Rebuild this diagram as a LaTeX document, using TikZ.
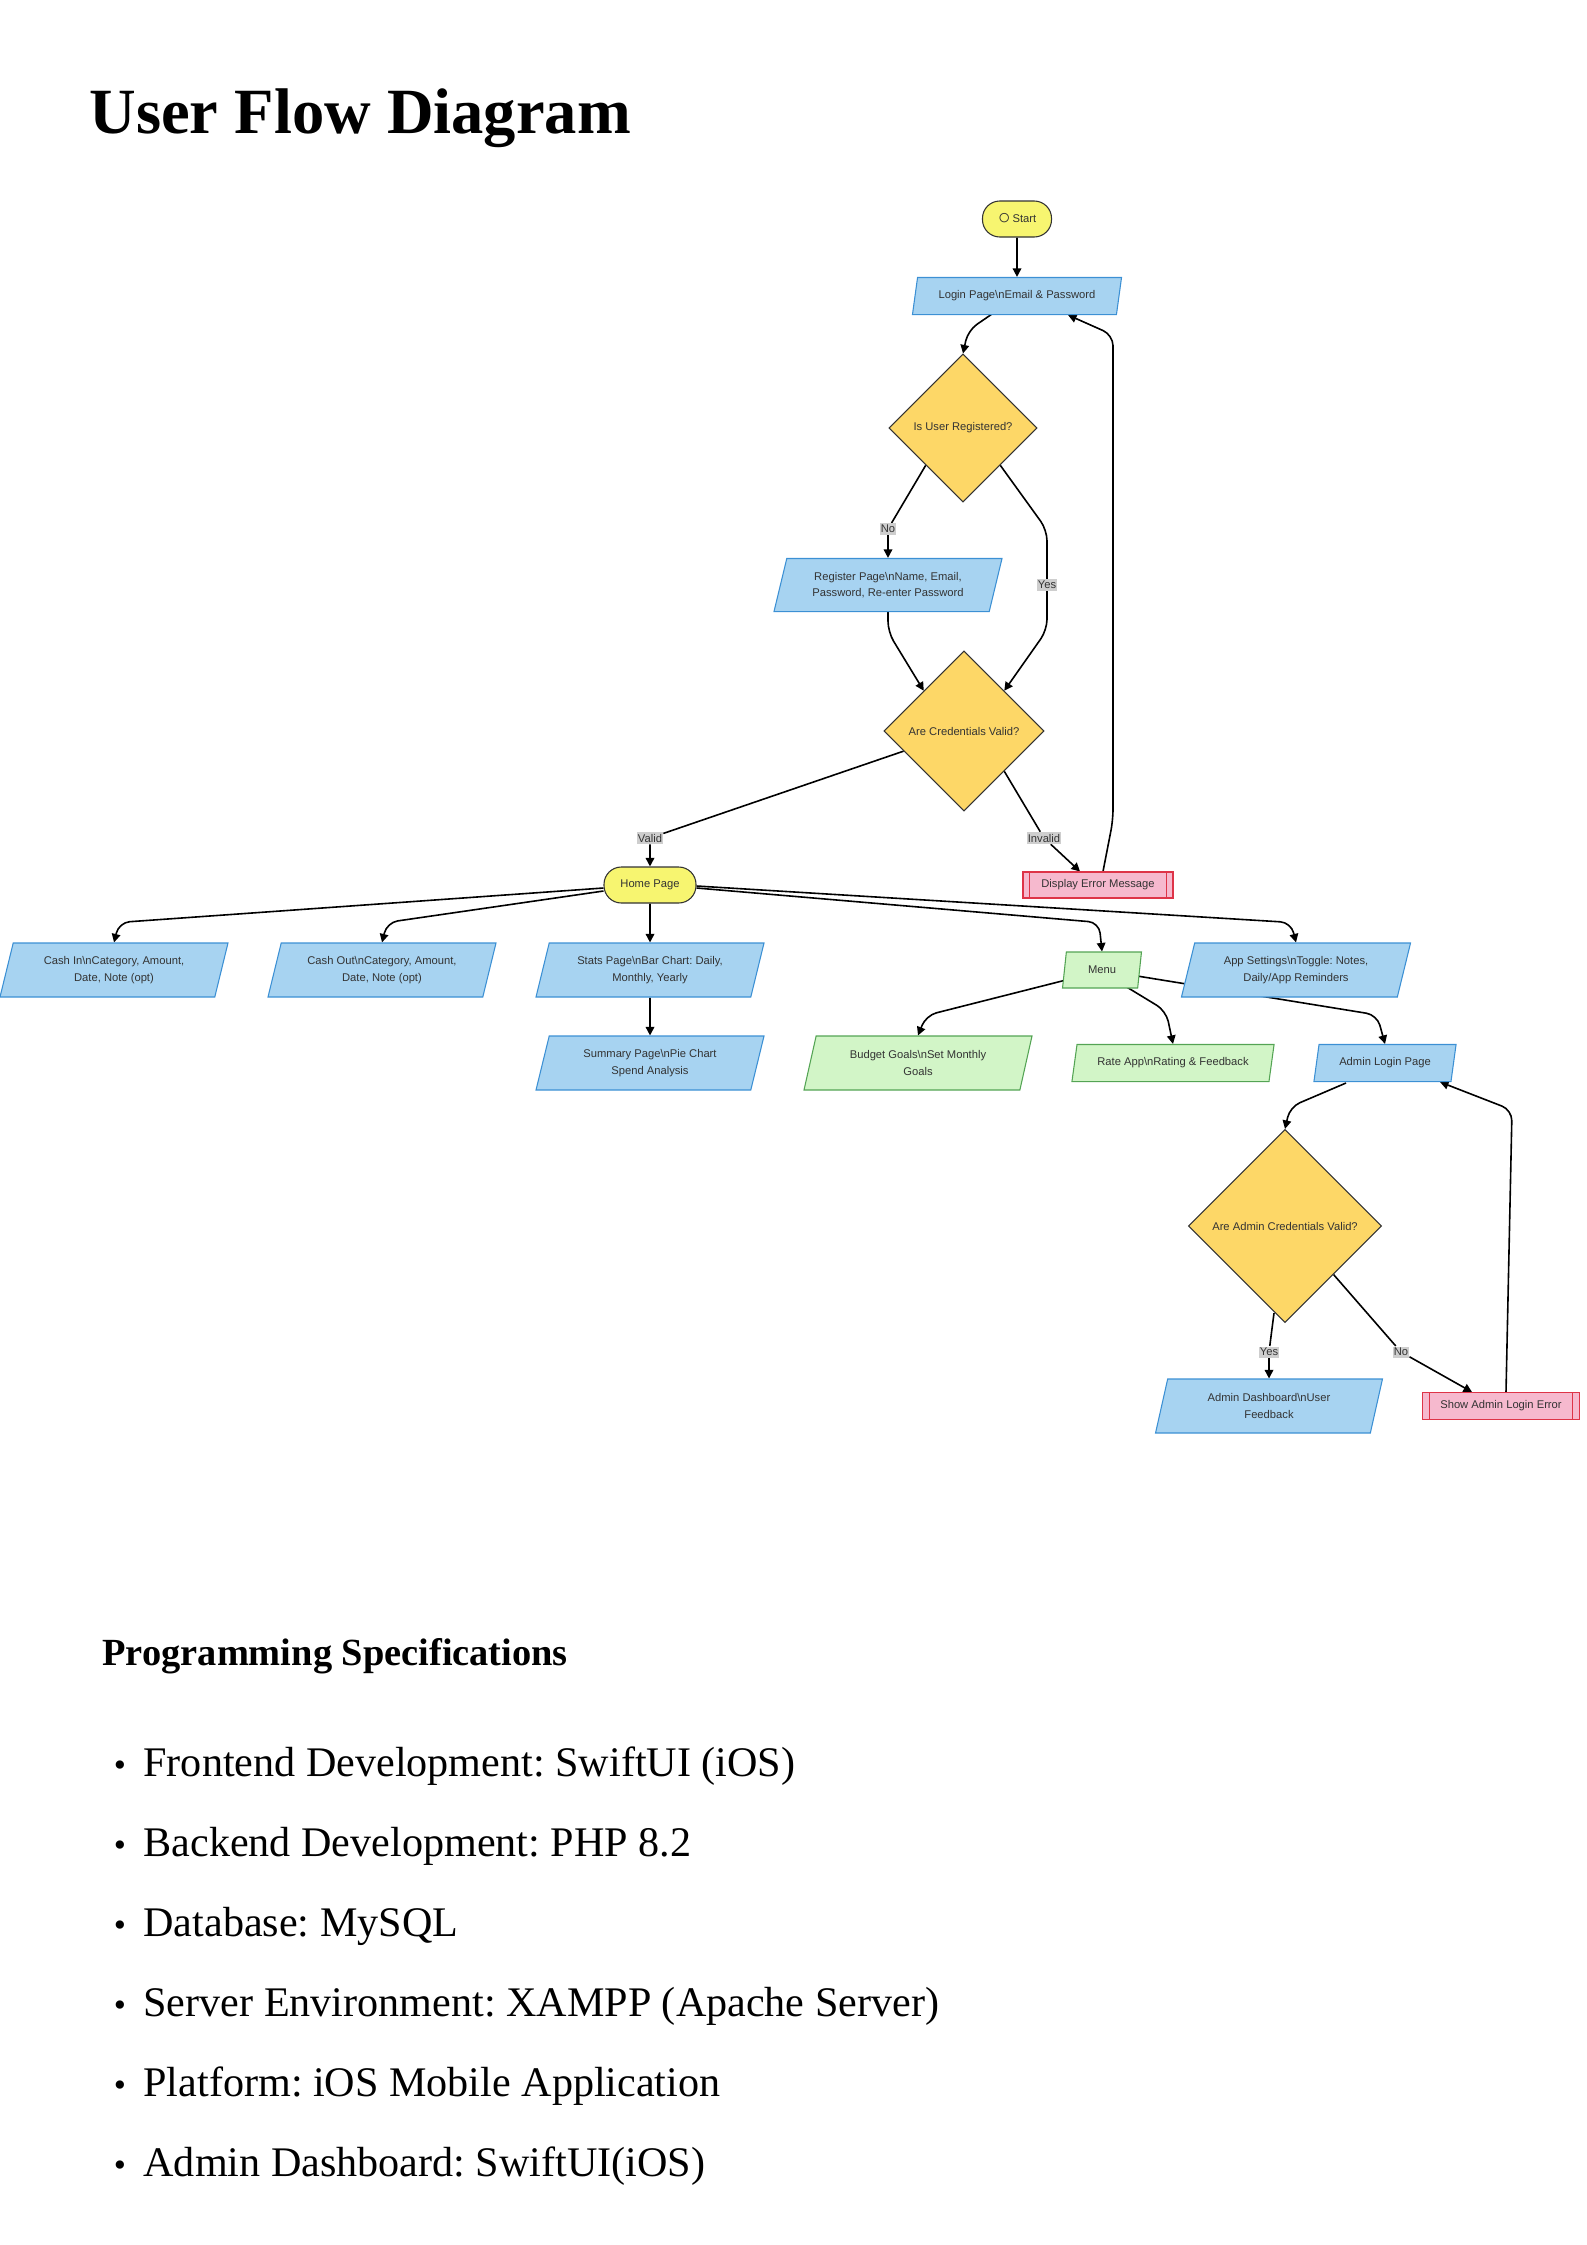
\documentclass[tikz,border=0pt]{standalone}
\usepackage{fontspec}
\setmainfont{Liberation Serif}
\newfontfamily\flowfont{Liberation Sans}
\usetikzlibrary{calc,positioning,shapes.geometric,arrows.meta}
\frenchspacing

\definecolor{pillfill}{RGB}{247,245,112}
\definecolor{decfill}{RGB}{253,215,103}
\definecolor{iofill}{RGB}{167,211,241}
\definecolor{ioline}{RGB}{60,144,212}
\definecolor{menufill}{RGB}{210,245,199}
\definecolor{menuline}{RGB}{84,164,84}
\definecolor{errfill}{RGB}{246,185,206}
\definecolor{errline}{RGB}{222,52,72}
\definecolor{lblfill}{RGB}{206,206,206}
\definecolor{txt}{RGB}{51,51,51}

\newcommand\bs{\textbackslash}

\pgfdeclarelayer{edges}
\pgfsetlayers{edges,main}

\tikzset{
  box/.style={font=\flowfont\fontsize{4.2}{6.25}\selectfont,text=txt,align=center,inner sep=0pt,line width=0.4pt},
  pill/.style={box,rectangle,rounded corners=6.5pt,fill=pillfill,draw=txt,minimum height=13.5pt},
  decision/.style={box,diamond,aspect=1,fill=decfill,draw=txt},
  page/.style={box,trapezium,trapezium left angle=64,trapezium right angle=116,trapezium stretches body,fill=iofill,draw=ioline},
  menupage/.style={page,fill=menufill,draw=menuline},
  errbox/.style={box,rectangle,fill=errfill,draw=errline,
    path picture={\draw[errline,line width=0.4pt]
      ([xshift=2.5pt]path picture bounding box.north west)--([xshift=2.5pt]path picture bounding box.south west)
      ([xshift=-2.5pt]path picture bounding box.north east)--([xshift=-2.5pt]path picture bounding box.south east);}},
  lbl/.style={box,fill=lblfill,inner xsep=0.3pt,inner ysep=0.6pt},
  flow/.style={line width=0.6pt,rounded corners=4pt,-{Triangle[length=3.2pt,width=3.2pt]}},
  bullet/.style={anchor=base,inner sep=0pt,font=\fontsize{13}{15}\selectfont},
  item/.style={anchor=base west,inner sep=0pt,font=\fontsize{15.8}{19}\selectfont}
}

\begin{document}
\begin{tikzpicture}[x=0.375pt,y=-0.375pt]
\useasboundingbox (0,0) rectangle (1587,2245);

\node[anchor=base west,inner sep=0pt,font=\fontsize{24.2}{29}\selectfont\bfseries] (title) at (89,133) {User Flow Diagram};

% user side
\node[pill,minimum width=25.9pt] (start) at (1017,219) {\raisebox{-0.9pt}{\fontsize{8}{6}\selectfont○}\,Start};
\node[page,minimum width=78.4pt,minimum height=13.9pt] (login) at (1017,296) {Login Page\bs nEmail \& Password};
\node[decision,minimum width=55.5pt,minimum height=55.5pt] (userreg) at (963,428) {Is User Registered?};
\node[page,minimum width=85.5pt,minimum height=19.9pt] (register) at (888,585) {Register Page\bs nName, Email,\\Password, Re-enter Password};
\node[decision,minimum width=60pt,minimum height=60pt] (cred) at (964,731) {Are Credentials Valid?};
\node[errbox,minimum width=56.25pt,minimum height=9.75pt] (error) at (1098,885) {Display Error Message};
\node[pill,minimum width=34.5pt] (home) at (650,885) {Home Page};

\node[page,minimum width=85.5pt,minimum height=20.25pt] (cashin) at (114,970) {Cash In\bs nCategory, Amount,\\Date, Note (opt)};
\node[page,minimum width=85.5pt,minimum height=20.25pt] (cashout) at (382,970) {Cash Out\bs nCategory, Amount,\\Date, Note (opt)};
\node[page,minimum width=85.5pt,minimum height=20.25pt] (stats) at (650,970) {Stats Page\bs nBar Chart: Daily,\\Monthly, Yearly};
\node[menupage,minimum width=29.6pt,minimum height=13.5pt] (menu) at (1102,970) {Menu};
\node[page,minimum width=85.9pt,minimum height=20.25pt] (settings) at (1296,970) {App Settings\bs nToggle: Notes,\\Daily/App Reminders};
\node[page,minimum width=85.5pt,minimum height=20.25pt] (summary) at (650,1063) {Summary Page\bs nPie Chart\\Spend Analysis};
\node[menupage,minimum width=85.5pt,minimum height=20.25pt] (budget) at (918,1063) {Budget Goals\bs nSet Monthly\\Goals};
\node[menupage,minimum width=75.8pt,minimum height=13.9pt] (rate) at (1173,1063) {Rate App\bs nRating \& Feedback};

% admin side
\node[page,minimum width=53.3pt,minimum height=13.9pt] (adminlogin) at (1385,1063) {Admin Login Page};
\node[decision,minimum width=72.4pt,minimum height=72.4pt] (admincred) at (1285,1226) {Are Admin Credentials Valid?};
\node[page,minimum width=85.1pt,minimum height=20.25pt] (admindash) at (1269,1406) {Admin Dashboard\bs nUser\\Feedback};
\node[errbox,minimum width=58.9pt,minimum height=10.1pt] (adminerr) at (1501,1406) {Show Admin Login Error};

% edge labels
\node[lbl] (lblNo) at (888,529) {No};
\node[lbl] (lblYes) at (1047,585) {Yes};
\node[lbl] (lblValid) at (650,838) {Valid};
\node[lbl] (lblInvalid) at (1044,838) {Invalid};
\node[lbl] (lblAdmYes) at (1269,1352) {Yes};
\node[lbl] (lblAdmNo) at (1401,1352) {No};

\coordinate (railA) at (1113,335);
\coordinate (railB) at (1512,1110);

\begin{pgfonlayer}{edges}
\draw[flow] (start)--(login);
\draw[flow] ($(login)+(-25,18)$)--($(userreg.north)+(5,-23)$)--(userreg.north);
\draw[flow] (userreg.south west)--(lblNo)--(lblNo|-register.north);
\draw[flow] (userreg.south east)--($(lblYes)+(0,-55)$)--(lblYes)--($(lblYes)+(0,45)$)--(cred.north east);
\draw[flow] (register.south)--($(register.south)+(0,20)$)--(cred.north west);
\draw[flow] ($(cred.west)!0.5!(cred.south west)$)--(lblValid)--(home);
\draw[flow] (cred.south east)--(lblInvalid)--($(error.north)+(-18,0)$);
\draw[flow] ($(error.north)+(5,0)$)--($(railA)+(0,485)$)--(railA)--($(login)+(51,19)$);

\draw[flow] ($(home.west)+(0,3)$)--($(cashin.north)+(5,-20)$)--(cashin.north);
\draw[flow] ($(home.west)+(0,6)$)--($(cashout.north)+(5,-20)$)--(cashout.north);
\draw[flow] (home)--(stats);
\draw[flow] ($(home.east)+(0,3)$)--($(menu.north)+(-3,-29)$)--(menu.north);
\draw[flow] ($(home.east)+(0,1)$)--($(settings.north)+(-5,-20)$)--(settings.north);
\draw[flow] (stats)--(summary);

\draw[flow] ($(menu)+(-36,10)$)--($(budget.north)+(8,-20)$)--(budget.north);
\draw[flow] ($(menu)+(23,16)$)--($(rate.north)+(-7,-33)$)--(rate.north);
\draw[flow] ($(menu)+(29,5)$)--($(adminlogin.north)+(-8,-29)$)--(adminlogin.north);

\draw[flow] ($(adminlogin)+(-39,20)$)--($(admincred.north)+(5,-22)$)--(admincred.north);
\draw[flow] ($(admincred.south)+(-11,-10)$)--(lblAdmYes)--(admindash.north);
\draw[flow] (admincred.south east)--(lblAdmNo)--($(adminerr.north)+(-29,0)$);
\draw[flow] ($(adminerr.north)+(5,0)$)--(railB)--($(adminlogin)+(55,19)$);
\end{pgfonlayer}

% specifications
\node[anchor=base west,inner sep=0pt,font=\fontsize{14.4}{17}\selectfont\bfseries] (spec) at (102,1665) {Programming Specifications};
\node[bullet] (dot1) at (120,1776) {\textbullet};
\node[item] (item1) at (143,1776) {Frontend Development: SwiftUI (iOS)};
\node[bullet] (dot2) at (120,1856) {\textbullet};
\node[item] (item2) at (143,1856) {Backend Development: PHP 8.2};
\node[bullet] (dot3) at (120,1936) {\textbullet};
\node[item] (item3) at (143,1936) {Database: MySQL};
\node[bullet] (dot4) at (120,2016) {\textbullet};
\node[item] (item4) at (143,2016) {Server Environment: XAMPP (Apache Server)};
\node[bullet] (dot5) at (120,2096) {\textbullet};
\node[item] (item5) at (143,2096) {Platform: iOS Mobile Application};
\node[bullet] (dot6) at (120,2176) {\textbullet};
\node[item] (item6) at (143,2176) {Admin Dashboard: SwiftUI(iOS)};
\end{tikzpicture}
\end{document}
